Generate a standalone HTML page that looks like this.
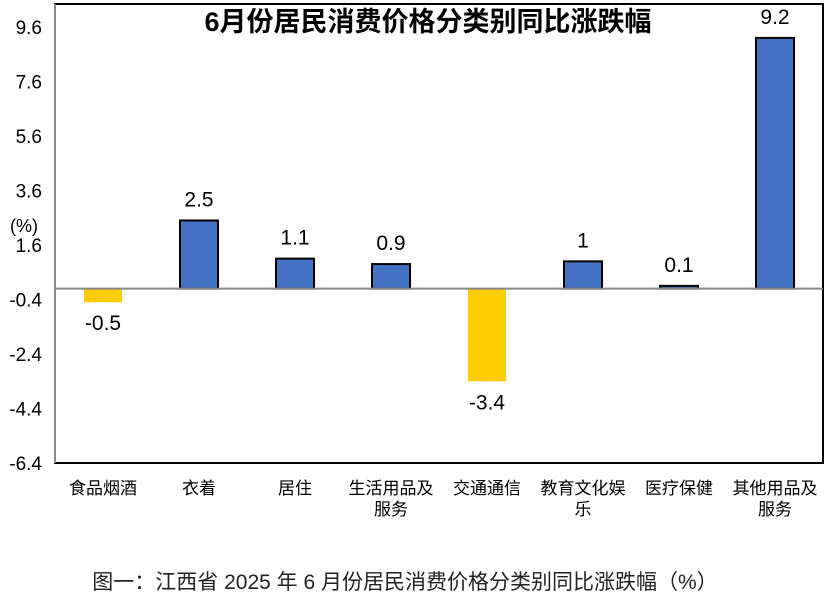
<!DOCTYPE html>
<html><head><meta charset="utf-8"><style>
body{margin:0;background:#fff;width:828px;height:598px;overflow:hidden;font-family:"Liberation Sans","Noto Sans CJK SC",sans-serif}
</style></head><body>
<svg id="chart" width="828" height="598" xmlns="http://www.w3.org/2000/svg" font-family="Liberation Sans, Noto Sans CJK SC, sans-serif"></svg>
<script>
const categories=[["食品烟酒"],["衣着"],["居住"],["生活用品及","服务"],["交通通信"],["教育文化娱","乐"],["医疗保健"],["其他用品及","服务"]];
const values=[-0.5,2.5,1.1,0.9,-3.4,1,0.1,9.2];
const valueLabels=["-0.5","2.5","1.1","0.9","-3.4","1","0.1","9.2"];
const yTicks=[9.6,7.6,5.6,3.6,1.6,-0.4,-2.4,-4.4,-6.4];
const NS="http://www.w3.org/2000/svg";
const svg=document.getElementById('chart');
const L=55,R=823,T=4,B=463;
const yMin=-6.4,yMax=9.6;
function y(v){return 463-(v-yMin)*(436/(yMax-yMin));}
const bw=(R-L)/categories.length;
function xc(i){return L+bw*(i+0.5);}
function mk(tag,attrs,text){const e=document.createElementNS(NS,tag);for(const k in attrs)e.setAttribute(k,attrs[k]);if(text!==undefined)e.textContent=text;svg.appendChild(e);return e;}
let e;
e=mk('rect',{x:L,y:T,width:R-L,height:B-T,fill:'none',stroke:'#000','stroke-width':2});


e=mk('line',{x1:L,y1:T,x2:L,y2:B,stroke:'#888','stroke-width':2});


yTicks.forEach(t=>{
 const el=mk('text',{x:42,y:y(t)+7,'text-anchor':'end','font-size':19,fill:'#000'},String(t));
 
 
});
e=mk('text',{x:24,y:232,'text-anchor':'middle','font-size':18},'(%)');


values.forEach((v,i)=>{
 const x=xc(i)-19,y0=y(0),y1=y(v);
 const r=mk('rect',{x:x,y:Math.min(y0,y1),width:38,height:Math.abs(y1-y0),fill:v<0?'#FFCC00':'#4472C4',stroke:v<0?'none':'#000','stroke-width':2});
 
 
 const ly=v<0?y1+28:y1-14;
 const t=mk('text',{x:xc(i),y:ly,'text-anchor':'middle','font-size':21},valueLabels[i]);
 
 
 categories[i].forEach((s,j)=>{
  const c=mk('text',{x:xc(i),y:494+j*21,'text-anchor':'middle','font-size':17},s);
  
  
 });
});
e=mk('line',{x1:L,y1:y(0),x2:R,y2:y(0),stroke:'#888','stroke-width':2});


e=mk('text',{x:428,y:31,'text-anchor':'middle','font-size':27,'font-weight':'bold'},'6月份居民消费价格分类别同比涨跌幅');


e=mk('text',{x:405,y:589,'text-anchor':'middle','font-size':21,fill:'#222'},'图一：江西省 2025 年 6 月份居民消费价格分类别同比涨跌幅（%）');


</script>
</body></html>
